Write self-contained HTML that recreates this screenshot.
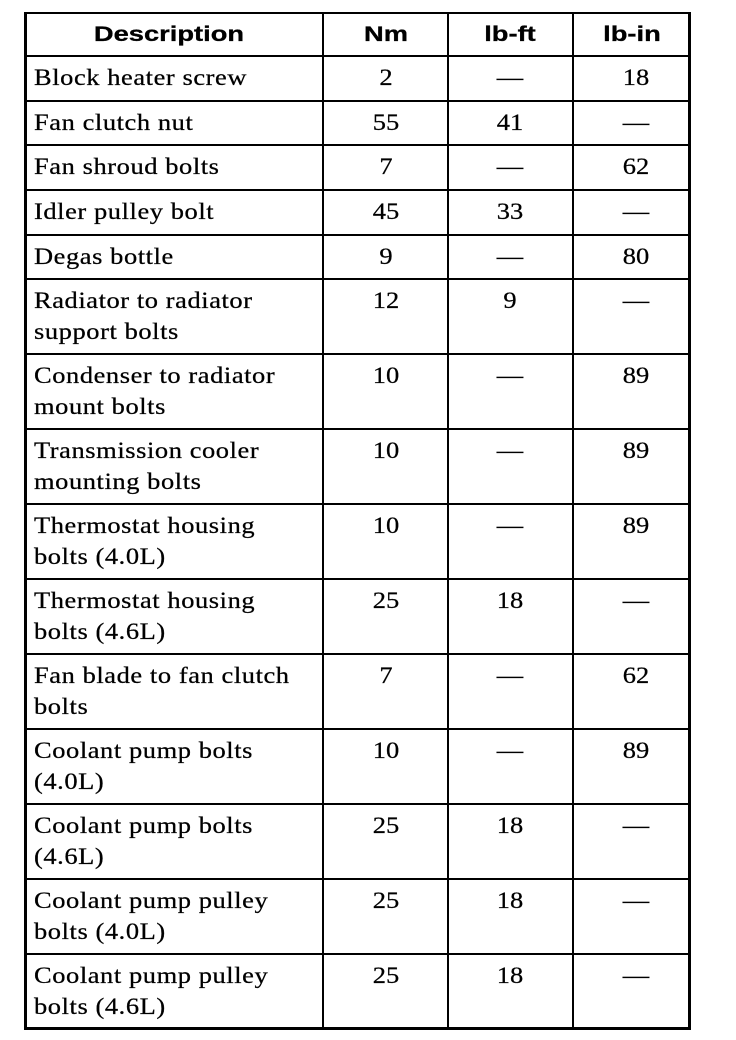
<!DOCTYPE html>
<html>
<head>
<meta charset="utf-8">
<style>
  html, body { margin:0; padding:0; background:#fff; }
  #w { position:relative; width:736px; height:1040px; overflow:hidden; background:#fff; }
  .h { position:absolute; background:#000; height:2px; left:24px; width:667px; }
  .v { position:absolute; background:#000; width:2px; top:12px; height:1018px; }
  .t { position:absolute; font-family:"Liberation Serif", serif; font-size:23px; line-height:31px;
       white-space:nowrap; letter-spacing:0.5px; color:#000; transform-origin:0 0; transform:scaleX(1.15);
       -webkit-text-stroke:0.25px #000; }
  .n { position:absolute; font-family:"Liberation Serif", serif; font-size:23px; line-height:31px;
       white-space:nowrap; color:#000; width:100px; text-align:center; transform-origin:50% 0; transform:scaleX(1.15);
       -webkit-text-stroke:0.25px #000; }
  .hd { position:absolute; font-family:"Liberation Sans", sans-serif; font-weight:bold; font-size:21px; line-height:24px;
        white-space:nowrap; color:#000; width:200px; text-align:center; top:23px; transform-origin:50% 0; transform:scaleX(1.3);
        -webkit-text-stroke:0.3px #000; }
</style>
</head>
<body>
<div id="w">
  <!-- horizontal lines -->
  <div class="h" style="top:12px;"></div>
  <div class="h" style="top:55px;"></div>
  <div class="h" style="top:100px;"></div>
  <div class="h" style="top:144px;"></div>
  <div class="h" style="top:189px;"></div>
  <div class="h" style="top:234px;"></div>
  <div class="h" style="top:278px;"></div>
  <div class="h" style="top:353px;"></div>
  <div class="h" style="top:428px;"></div>
  <div class="h" style="top:503px;"></div>
  <div class="h" style="top:578px;"></div>
  <div class="h" style="top:653px;"></div>
  <div class="h" style="top:728px;"></div>
  <div class="h" style="top:803px;"></div>
  <div class="h" style="top:878px;"></div>
  <div class="h" style="top:953px;"></div>
  <div class="h" style="top:1027px;height:3px;"></div>
  <!-- vertical lines -->
  <div class="v" style="left:24px;width:3px;"></div>
  <div class="v" style="left:322px;"></div>
  <div class="v" style="left:447px;"></div>
  <div class="v" style="left:572px;"></div>
  <div class="v" style="left:688px;width:3px;"></div>

  <!-- header -->
  <div class="hd" style="left:69px;">Description</div>
  <div class="hd" style="left:286px;">Nm</div>
  <div class="hd" style="left:410px;">lb-ft</div>
  <div class="hd" style="left:532px;">lb-in</div>

  <!-- row 1 -->
  <div class="t" style="left:34px;top:62px;">Block heater screw</div>
  <div class="n" style="left:336px;top:62px;">2</div>
  <div class="n" style="left:460px;top:62px;">—</div>
  <div class="n" style="left:586px;top:62px;">18</div>

  <!-- row 2 -->
  <div class="t" style="left:34px;top:107px;">Fan clutch nut</div>
  <div class="n" style="left:336px;top:107px;">55</div>
  <div class="n" style="left:460px;top:107px;">41</div>
  <div class="n" style="left:586px;top:107px;">—</div>

  <!-- row 3 -->
  <div class="t" style="left:34px;top:151px;">Fan shroud bolts</div>
  <div class="n" style="left:336px;top:151px;">7</div>
  <div class="n" style="left:460px;top:151px;">—</div>
  <div class="n" style="left:586px;top:151px;">62</div>

  <!-- row 4 -->
  <div class="t" style="left:34px;top:196px;">Idler pulley bolt</div>
  <div class="n" style="left:336px;top:196px;">45</div>
  <div class="n" style="left:460px;top:196px;">33</div>
  <div class="n" style="left:586px;top:196px;">—</div>

  <!-- row 5 -->
  <div class="t" style="left:34px;top:241px;">Degas bottle</div>
  <div class="n" style="left:336px;top:241px;">9</div>
  <div class="n" style="left:460px;top:241px;">—</div>
  <div class="n" style="left:586px;top:241px;">80</div>

  <!-- row 6 -->
  <div class="t" style="left:34px;top:285px;">Radiator to radiator<br>support bolts</div>
  <div class="n" style="left:336px;top:285px;">12</div>
  <div class="n" style="left:460px;top:285px;">9</div>
  <div class="n" style="left:586px;top:285px;">—</div>

  <!-- row 7 -->
  <div class="t" style="left:34px;top:360px;">Condenser to radiator<br>mount bolts</div>
  <div class="n" style="left:336px;top:360px;">10</div>
  <div class="n" style="left:460px;top:360px;">—</div>
  <div class="n" style="left:586px;top:360px;">89</div>

  <!-- row 8 -->
  <div class="t" style="left:34px;top:435px;">Transmission cooler<br>mounting bolts</div>
  <div class="n" style="left:336px;top:435px;">10</div>
  <div class="n" style="left:460px;top:435px;">—</div>
  <div class="n" style="left:586px;top:435px;">89</div>

  <!-- row 9 -->
  <div class="t" style="left:34px;top:510px;">Thermostat housing<br>bolts (4.0L)</div>
  <div class="n" style="left:336px;top:510px;">10</div>
  <div class="n" style="left:460px;top:510px;">—</div>
  <div class="n" style="left:586px;top:510px;">89</div>

  <!-- row 10 -->
  <div class="t" style="left:34px;top:585px;">Thermostat housing<br>bolts (4.6L)</div>
  <div class="n" style="left:336px;top:585px;">25</div>
  <div class="n" style="left:460px;top:585px;">18</div>
  <div class="n" style="left:586px;top:585px;">—</div>

  <!-- row 11 -->
  <div class="t" style="left:34px;top:660px;">Fan blade to fan clutch<br>bolts</div>
  <div class="n" style="left:336px;top:660px;">7</div>
  <div class="n" style="left:460px;top:660px;">—</div>
  <div class="n" style="left:586px;top:660px;">62</div>

  <!-- row 12 -->
  <div class="t" style="left:34px;top:735px;">Coolant pump bolts<br>(4.0L)</div>
  <div class="n" style="left:336px;top:735px;">10</div>
  <div class="n" style="left:460px;top:735px;">—</div>
  <div class="n" style="left:586px;top:735px;">89</div>

  <!-- row 13 -->
  <div class="t" style="left:34px;top:810px;">Coolant pump bolts<br>(4.6L)</div>
  <div class="n" style="left:336px;top:810px;">25</div>
  <div class="n" style="left:460px;top:810px;">18</div>
  <div class="n" style="left:586px;top:810px;">—</div>

  <!-- row 14 -->
  <div class="t" style="left:34px;top:885px;">Coolant pump pulley<br>bolts (4.0L)</div>
  <div class="n" style="left:336px;top:885px;">25</div>
  <div class="n" style="left:460px;top:885px;">18</div>
  <div class="n" style="left:586px;top:885px;">—</div>

  <!-- row 15 -->
  <div class="t" style="left:34px;top:960px;">Coolant pump pulley<br>bolts (4.6L)</div>
  <div class="n" style="left:336px;top:960px;">25</div>
  <div class="n" style="left:460px;top:960px;">18</div>
  <div class="n" style="left:586px;top:960px;">—</div>
</div>
</body>
</html>
